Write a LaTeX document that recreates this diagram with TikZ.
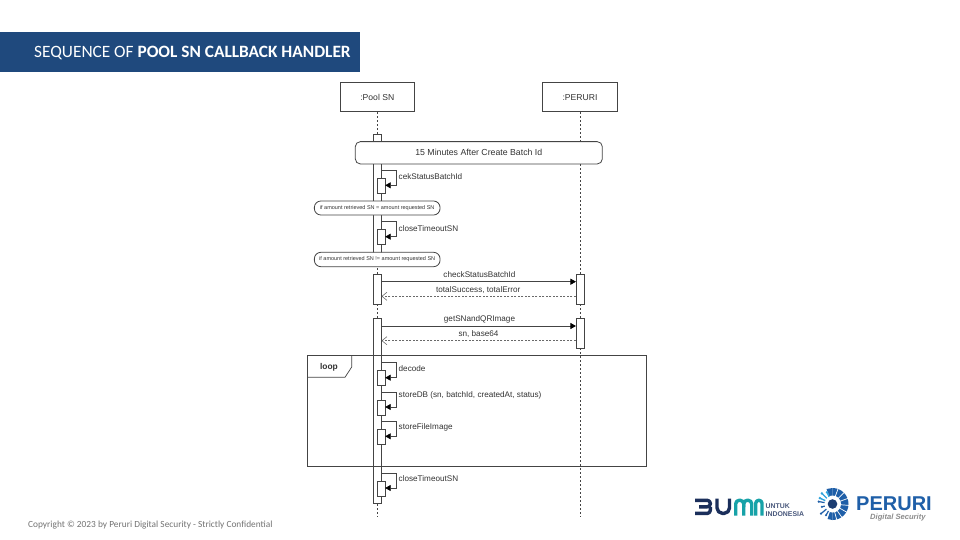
\documentclass[tikz,border=0pt]{standalone}
\usepackage{fontspec}
\setmainfont{Liberation Sans}
\newfontfamily\cali{Carlito}
\usetikzlibrary{arrows.meta}
\definecolor{banner}{HTML}{1F497D}
\definecolor{ink}{HTML}{333333}
\definecolor{edge}{HTML}{444444}
\definecolor{navy}{HTML}{1B2F5B}
\definecolor{teal}{HTML}{17A2A8}
\definecolor{pblue}{HTML}{1F5FA8}
\definecolor{sky}{HTML}{2FA4DC}
\tikzset{
 actor/.style={draw=edge,fill=white,line width=.8pt,minimum width=74.5pt,minimum height=29.5pt,inner sep=0pt,text=ink,text height=6.5pt,text depth=0pt,font=\fontsize{8.6}{10}\selectfont},
 life/.style={draw=edge,line width=.7pt,dash pattern=on 2pt off 2pt},
 actbar/.style={draw=edge,fill=white,line width=.8pt,minimum width=7.7pt,inner sep=0pt},
 smallbar/.style={draw=edge,fill=white,line width=.7pt,minimum width=7.7pt,minimum height=15pt,inner sep=0pt},
 msg/.style={draw=edge,line width=.8pt,-{Triangle[length=5.5pt,width=6pt,color=black,fill=black]}},
 reply/.style={draw=edge!80,line width=.6pt,dash pattern=on 2pt off 1.5pt,-{Straight Barb[length=5pt,width=8pt]}},
 lab/.style={text=ink,inner sep=0pt,font=\fontsize{8.15}{10}\selectfont},
 notebox/.style={draw=edge,fill=white,line width=.8pt,rounded corners=5pt,inner sep=0pt,text=ink},
 grp/.style={draw=edge,line width=.9pt},
}
\newcommand{\selfcall}[4]{% name, top y, label, label y
 \node[smallbar,anchor=north] (#1) at (381,#2+7.5) {};
 \coordinate (#1s) at (381,#2);
 \coordinate (#1c) at (396,#2);
 \coordinate (#1a) at (396,#2+15);
 \draw[msg,line width=.7pt] (#1s) -- (#1c) -- (#1a) -- (#1a-|#1.east);
 \node[lab,anchor=west] (#1t) at (398.5,#4) {#3};
}
\begin{document}
\begin{tikzpicture}[x=1pt,y=-1pt]
\useasboundingbox (0,0) rectangle (960,540);
\fill[white] (0,0) rectangle (960,540);
% banner
\node[fill=banner,minimum width=360pt,minimum height=40pt,inner sep=0pt,anchor=north west] (banner) at (0,32) {};
\node[anchor=west,inner sep=0pt,text=white,font=\cali\fontsize{17.3}{20}\selectfont] (title) at (34,53) {SEQUENCE OF \textbf{POOL SN CALLBACK HANDLER}};
\node[anchor=west,inner sep=0pt,text=black!55,font=\cali\fontsize{9.35}{11}\selectfont] (foot) at (28,525) {Copyright © 2023 by Peruri Digital Security - Strictly Confidential};
% actors and lifelines
\node[actor] (pool) at (377.3,97) {:Pool SN};
\node[actor] (peruri) at (580,97) {:PERURI};
\coordinate (poolend) at (377.3,517);
\coordinate (peruriend) at (580,517);
\draw[life] (pool.south) -- (poolend);
\draw[life] (peruri.south) -- (peruriend);
% activations
\node[actbar,minimum height=118.5pt,anchor=north] (a1) at (377.2,134.2) {};
\node[actbar,minimum height=29.7pt,anchor=north] (a2) at (377.2,274.3) {};
\node[actbar,minimum height=184.4pt,anchor=north] (a3) at (377.2,318.3) {};
\node[actbar,minimum height=29.7pt,anchor=north] (b2) at (580.2,274.3) {};
\node[actbar,minimum height=30pt,anchor=north] (b3) at (580.2,318.3) {};
% note bars
\node[notebox,minimum width=247pt,minimum height=22.3pt,font=\fontsize{8.75}{10}\selectfont] (delay) at (478.8,152.8) {15 Minutes After Create Batch Id};
\selfcall{s1}{170.3}{cekStatusBatchId}{176.5}
\node[notebox,minimum width=125.7pt,minimum height=14pt,rounded corners=6.5pt,font=\fontsize{5.5}{6}\selectfont] (n1) at (377.2,208) {if amount retrieved SN = amount requested SN};
\selfcall{s2}{221.7}{closeTimeoutSN}{228.5}
\node[notebox,minimum width=125.7pt,minimum height=14.4pt,rounded corners=6.5pt,font=\fontsize{5.5}{6}\selectfont] (n2) at (377.2,259.5) {if amount retrieved SN != amount requested SN};
% messages
\coordinate (m1a) at (a2.east|-0,281.7);
\coordinate (m1b) at (b2.west|-0,281.7);
\coordinate (m2a) at (b2.west|-0,296.3);
\coordinate (m2b) at (a2.east|-0,296.3);
\coordinate (m3a) at (a3.east|-0,326);
\coordinate (m3b) at (b3.west|-0,326);
\coordinate (m4a) at (b3.west|-0,340.7);
\coordinate (m4b) at (a3.east|-0,340.7);
\draw[msg] (m1a) -- (m1b);
\draw[reply] (m2a) -- (m2b);
\draw[msg] (m3a) -- (m3b);
\draw[reply] (m4a) -- (m4b);
\node[lab] (l1) at (479.5,274.8) {checkStatusBatchId};
\node[lab] (l2) at (478.3,289.6) {totalSuccess, totalError};
\node[lab] (l3) at (479.5,319.2) {getSNandQRImage};
\node[lab] (l4) at (478.5,333.8) {sn, base64};
% loop frame
\node[grp,minimum width=338.8pt,minimum height=111pt,inner sep=0pt,anchor=north west] (loop) at (307.3,355) {};
\coordinate (t1) at (351.7,355);
\coordinate (t2) at (351.7,367);
\coordinate (t3) at (345,377.3);
\coordinate (t4) at (307.3,377.3);
\draw[grp,line width=.7pt] (t1) -- (t2) -- (t3) -- (t4);
\node[lab,font=\fontsize{8.4}{9}\bfseries\selectfont] (looplab) at (329,367) {loop};
% self calls
\selfcall{s3}{362.7}{decode}{368.8}
\selfcall{s4}{392}{storeDB (sn, batchId, createdAt, status)}{395.5}
\selfcall{s5}{421.3}{storeFileImage}{427.5}
\selfcall{s6}{473}{closeTimeoutSN}{479}
% BUMN logo
\begin{scope}[line width=3.4pt,line cap=butt,line join=round]
\draw[navy,rounded corners=3pt] (695,500.3) -- (710.3,500.3) -- (710.3,506.8) -- (699,506.8);
\draw[navy,rounded corners=3pt] (710.3,506.8) -- (710.3,513.4) -- (695,513.4);
\draw[navy,rounded corners=5.5pt] (717,498.5) -- (717,513.4) -- (729.5,513.4) -- (729.5,498.5);
\draw[teal,rounded corners=3.5pt] (735.7,515.5) -- (735.7,500.3) -- (743.7,500.3) -- (743.7,515.5);
\draw[teal,rounded corners=3.5pt] (743.7,507) -- (743.7,500.3) -- (751.7,500.3) -- (751.7,515.5);
\draw[teal,rounded corners=3pt] (755.7,515.5) -- (755.7,500.3) -- (762,500.3) -- (762,515.5);
\end{scope}
\node[anchor=west,inner sep=0pt,text=navy!80,font=\fontsize{6.9}{8}\bfseries\selectfont] (un) at (765.5,505.8) {UNTUK};
\node[anchor=west,inner sep=0pt,text=navy!80,font=\fontsize{6.9}{8}\bfseries\selectfont] (ind) at (765.5,514.3) {INDONESIA};
% Peruri logo
\coordinate (emb) at (832.5,504);
\fill[pblue] (emb) ++(0,-16) arc[start angle=-90,end angle=90,radius=16] -- cycle;
\fill[pblue] (emb) ++(-6,-15) -- (emb) -- ++(0,-16) -- cycle;
\fill[pblue] (emb) ++(-5,15) -- (emb) -- ++(0,16) -- cycle;
\foreach \a in {-70,-45,-20,5,30,55,75} \draw[white,line width=.7pt] (emb) -- ++(\a:17.5);
\fill[white] (emb) circle (8.5);
\fill[navy!70!pblue] (emb) circle (4.8);
\foreach \a/\r in {205/14,225/15,245/13}
 {\draw[sky,line width=1.4pt] (emb) ++(\a:8) -- ++(\a:\r-8); \fill[sky] (emb) ++(\a:\r) circle (1.4);}
\foreach \a/\r in {120/13,140/15,165/11,190/14}
 {\draw[pblue,line width=1.2pt] (emb) ++(\a:8) -- ++(\a:\r-8); \fill[pblue] (emb) ++(\a:\r) circle (1.2);}
\node[anchor=west,inner sep=0pt,text=pblue,font=\fontsize{20}{22}\bfseries\selectfont] (per) at (856,503.7) {PERURI};
\node[anchor=west,inner sep=0pt,text=black!45,font=\fontsize{7.6}{9}\bfseries\itshape\selectfont] (dig) at (870,518) {Digital Security};
\end{tikzpicture}
\end{document}
